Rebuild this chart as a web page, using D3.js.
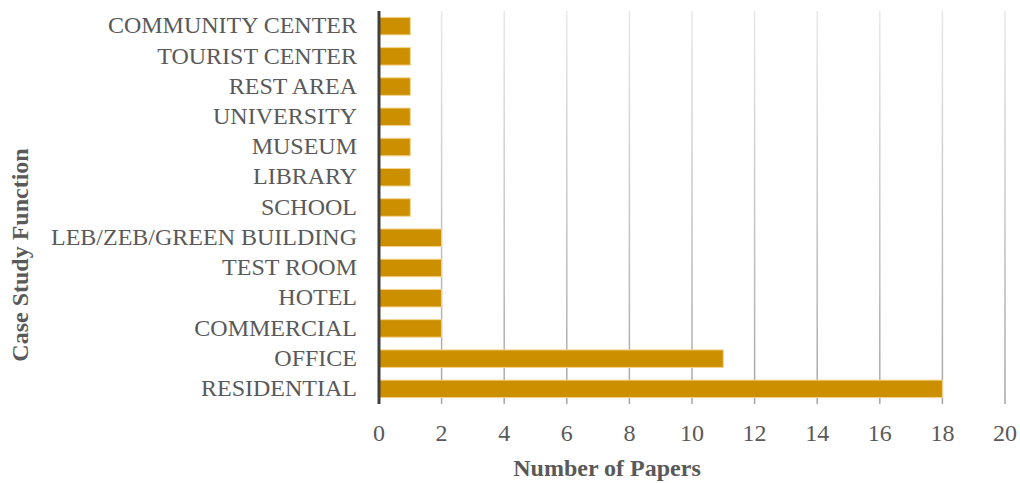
<!DOCTYPE html>
<html>
<head>
<meta charset="utf-8">
<script src="https://cdn.jsdelivr.net/npm/d3@7"></script>
<style>
  body { margin: 0; background: #fff; }
  text { font-family: "Liberation Serif", "Times New Roman", serif; }
</style>
</head>
<body>
<div id="chart"></div>
<script>
const categories = ["COMMUNITY CENTER", "TOURIST CENTER", "REST AREA", "UNIVERSITY", "MUSEUM", "LIBRARY", "SCHOOL",
  "LEB/ZEB/GREEN BUILDING", "TEST ROOM", "HOTEL", "COMMERCIAL", "OFFICE", "RESIDENTIAL"]
const papers = [1, 1, 1, 1, 1, 1, 1, 2, 2, 2, 2, 11, 18]
const xTicks = [0, 2, 4, 6, 8, 10, 12, 14, 16, 18, 20]

const width = 1020, height = 483
const margin = {top: 11, right: 15, bottom: 79, left: 379}
const fontSize = 24

const svg = d3.select("#chart").append("svg")
  .attr("width", width)
  .attr("height", height)

const x = d3.scaleLinear().domain([0, 20]).range([margin.left, 1005])
const y = d3.scaleBand().domain(categories).range([margin.top, height - margin.bottom]).paddingInner(0.42).paddingOuter(0.21)

// grid gradient, lighter at the top
const grad = svg.append("defs").append("linearGradient")
  .attr("id", "gridfade")
  .attr("gradientUnits", "userSpaceOnUse")
  .attr("x1", 0).attr("y1", margin.top).attr("x2", 0).attr("y2", height - margin.bottom)
grad.append("stop").attr("offset", "0%").attr("stop-color", "#e8e8e8")
grad.append("stop").attr("offset", "100%").attr("stop-color", "#a6a6a6")

svg.append("g")
  .selectAll("line")
  .data(xTicks.slice(1))
  .join("line")
    .attr("x1", d => x(d)).attr("x2", d => x(d))
    .attr("y1", margin.top).attr("y2", height - margin.bottom)
    .attr("stroke", "url(#gridfade)")
    .attr("stroke-width", 1.5)

svg.append("g")
  .selectAll("rect")
  .data(papers)
  .join("rect")
    .attr("x", x(0))
    .attr("y", (d, i) => y(categories[i]))
    .attr("width", d => x(d) - x(0))
    .attr("height", y.bandwidth())
    .attr("fill", "#cc8f00")
    .attr("stroke", "#f3d58e")
    .attr("stroke-width", 1)

// y axis line
svg.append("line")
  .attr("x1", x(0)).attr("x2", x(0))
  .attr("y1", margin.top).attr("y2", height - margin.bottom)
  .attr("stroke", "#404040")
  .attr("stroke-width", 3)

// category labels
svg.append("g")
  .selectAll("text")
  .data(categories)
  .join("text")
    .attr("x", 357)
    .attr("y", d => y(d) + y.bandwidth() / 2)
    .attr("dy", "0.3em")
    .attr("text-anchor", "end")
    .attr("font-size", fontSize)
    .attr("fill", "#595959")
    .text(d => d)

// x tick labels
svg.append("g")
  .selectAll("text")
  .data(xTicks)
  .join("text")
    .attr("x", d => x(d))
    .attr("y", 441)
    .attr("text-anchor", "middle")
    .attr("font-size", fontSize)
    .attr("fill", "#595959")
    .text(d => d)

svg.append("text")
  .attr("x", 607)
  .attr("y", 476)
  .attr("text-anchor", "middle")
  .attr("font-size", fontSize)
  .attr("font-weight", "bold")
  .attr("fill", "#595959")
  .text("Number of Papers")

svg.append("text")
  .attr("transform", "translate(28,255) rotate(-90)")
  .attr("text-anchor", "middle")
  .attr("font-size", fontSize)
  .attr("font-weight", "bold")
  .attr("fill", "#595959")
  .text("Case Study Function")
</script>
</body>
</html>
